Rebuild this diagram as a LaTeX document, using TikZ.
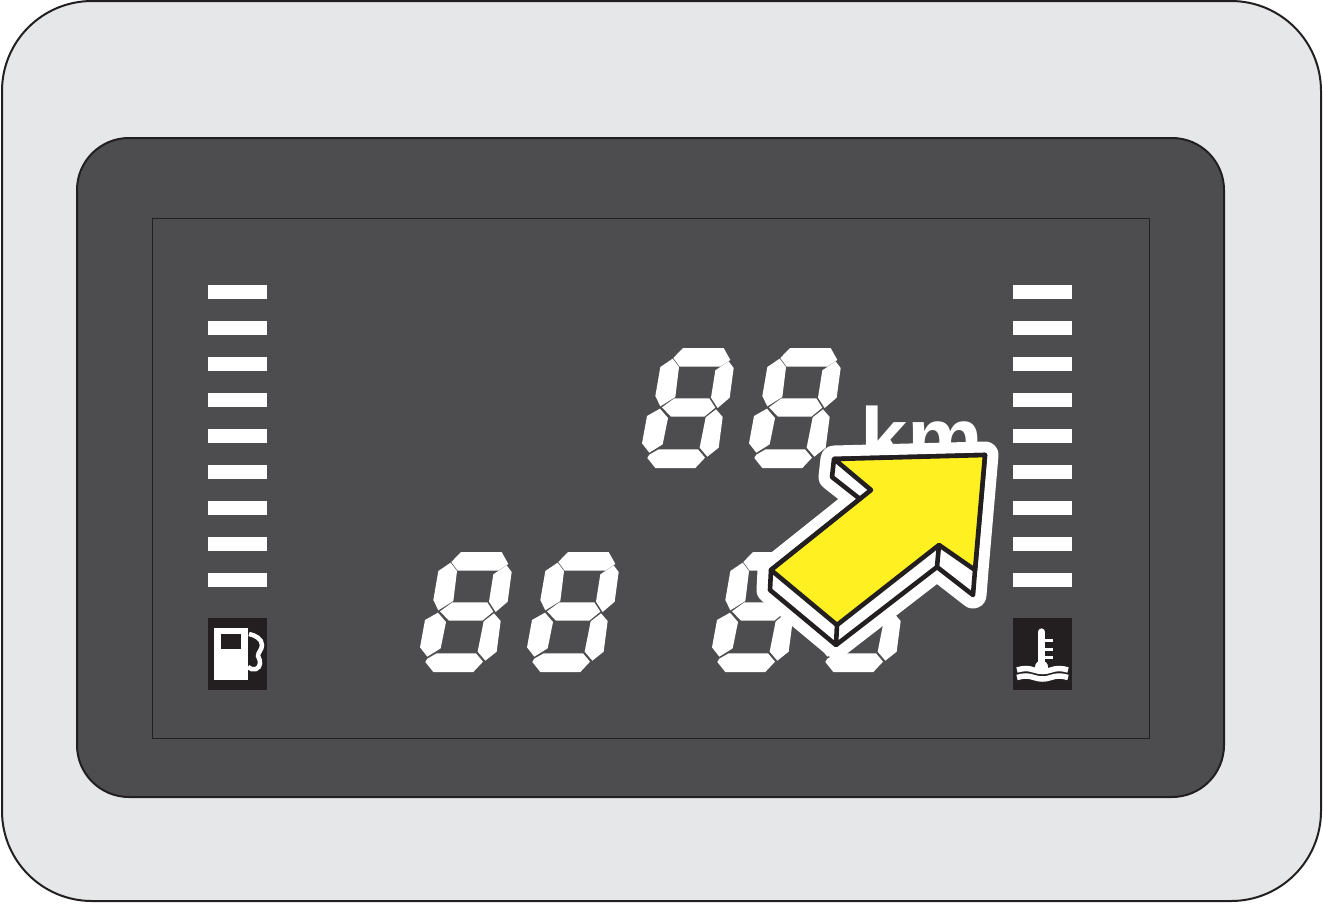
\documentclass[tikz,border=0pt]{standalone}
\usepackage{fontspec}
\usepackage{xcolor}
\newfontfamily\kmfont{Liberation Sans}
\definecolor{housing}{HTML}{E6E7E8}
\definecolor{panel}{HTML}{4D4D4F}
\definecolor{inkblack}{HTML}{231F20}
\definecolor{arrowyellow}{HTML}{FFF022}
\tikzset{
    segment/.style={fill=white,draw=none},
    bar/.style={fill=white,draw=none},
    iconbox/.style={fill=inkblack,draw=none},
    arrowline/.style={draw=inkblack,line width=4.6pt,line join=round},
}
\newcommand{\segdigit}[2]{
    \begin{scope}[shift={(#1,#2)},scale=0.33333]
        \fill[segment] (124,66) -- (153,36) -- (275,36) -- (295,72) -- (265,92) -- (143,92) -- cycle;
        \fill[segment] (85,93) -- (122,68) -- (141,93) -- (130,183) -- (85,211) -- (70,180) -- cycle;
        \fill[segment] (250,103) -- (290,76) -- (305,96) -- (293,185) -- (257,216) -- (237,185) -- cycle;
        \fill[segment] (90,214) -- (127,187) -- (232,187) -- (250,215) -- (217,242) -- (117,242) -- cycle;
        \fill[segment] (45,240) -- (84,218) -- (108,246) -- (92,325) -- (52,350) -- (30,322) -- cycle;
        \fill[segment] (221,244) -- (252,220) -- (272,243) -- (260,335) -- (226,362) -- (203,335) -- cycle;
        \fill[segment] (46,366) -- (52,356) -- (80,340) -- (198,340) -- (219,365) -- (190,396) -- (70,396) -- cycle;
    \end{scope}
}
\begin{document}
\begin{tikzpicture}[x=1pt,y=-1pt]
    \useasboundingbox (0,0) rectangle (1323,903);
    % housing, panel, screen
    \draw[fill=housing,draw=inkblack,line width=2pt,rounded corners=90pt] (2,1) rectangle (1321,901);
    \draw[fill=panel,draw=inkblack,line width=2pt,rounded corners=52pt] (77,138) rectangle (1224,797);
    \draw[draw=inkblack,line width=1pt] (152,218) rectangle (1149,738);
    % level bars
    \foreach \y in {285,321,...,573}{
        \fill[bar] (208,\y) rectangle +(59,14);
        \fill[bar] (1013,\y) rectangle +(59,14);
    }
    % digits
    \segdigit{632}{336}
    \segdigit{739}{336}
    \segdigit{410}{540}
    \segdigit{517}{540}
    \segdigit{702}{540}
    \segdigit{810}{540}
    \node[anchor=base west,inner sep=0pt,text=white,font=\kmfont\bfseries\fontsize{85}{85}\selectfont] (km) at (860,467) {km};
    % fuel icon
    \fill[iconbox] (208,618) rectangle (267,690);
    \fill[white] (214,628) rectangle (248,680);
    \fill[inkblack] (221,634) rectangle (241,649);
    \draw[white,line width=4.5pt] (249,634) .. controls (255,635) and (262,639) .. (262,645)
        .. controls (262,650) and (258,652) .. (258,656)
        .. controls (261,661) and (261,667) .. (256,669)
        .. controls (253,670) and (250,669) .. (248,667);
    % coolant icon
    \fill[iconbox] (1013,618) rectangle (1072,690);
    \draw[white,line width=7.3pt,line cap=round] (1041.5,632) -- (1041.5,665);
    \fill[white] (1041.5,667) circle (6.5pt);
    \foreach \y in {640,649,657}{
        \draw[white,line width=3pt] (1044,\y) -- (1053,\y);
    }
    \foreach \y in {670,677.5}{
        \draw[white,line width=5.5pt] (1017,\y) .. controls (1024,\y-2) and (1028,\y-2) .. (1034,\y)
            .. controls (1040,\y+2) and (1045,\y+2) .. (1051,\y)
            .. controls (1056,\y-2) and (1062,\y-2) .. (1068,\y);
    }
    % arrow
    \coordinate (a1) at (834,459);
    \coordinate (a2) at (985,455);
    \coordinate (a3) at (975,570);
    \coordinate (a4) at (939,545);
    \coordinate (a5) at (837,625);
    \coordinate (a6) at (771,570);
    \coordinate (a7) at (871,490);
    \coordinate (b1) at (832,477);
    \coordinate (b3) at (973,595);
    \coordinate (b4) at (937,567);
    \coordinate (b5) at (836,645);
    \coordinate (b6) at (770,590);
    \coordinate (b7) at (860,499);
    \draw[white,fill=white,line width=27pt,line join=round]
        (a1) -- (a2) -- (a3) -- (b3) -- (b4) -- (b5) -- (b6) -- (a6) -- (b7) -- (b1) -- cycle;
    \draw[arrowline,fill=white]
        (a1) -- (a2) -- (a3) -- (b3) -- (b4) -- (b5) -- (b6) -- (a6) -- (b7) -- (b1) -- cycle;
    \draw[arrowline,fill=arrowyellow]
        (a1) -- (a2) -- (a3) -- (a4) -- (a5) -- (a6) -- (a7) -- cycle;
    \draw[arrowline] (a4) -- (b4) (a5) -- (b5);
\end{tikzpicture}
\end{document}
